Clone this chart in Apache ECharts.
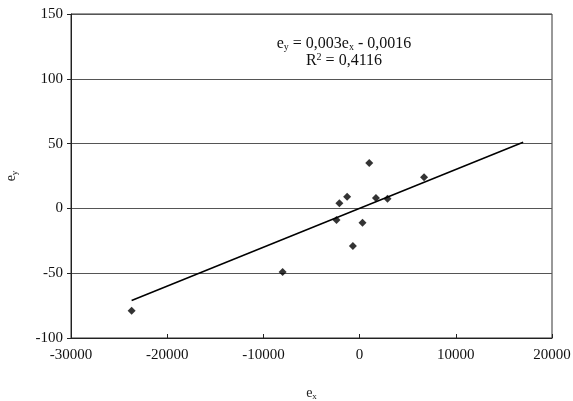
<!DOCTYPE html>
<html>
<head>
<meta charset="utf-8">
<script src="https://cdn.jsdelivr.net/npm/echarts@6/dist/echarts.min.js"></script>
<style>html,body{margin:0;padding:0;background:#fff;}#c{width:573px;height:401px;}</style>
</head>
<body>
<div id="c"></div>
<script>
var ex = [-23700, -8000, -2400, -2100, -1300, -700, 300, 1000, 1700, 2900, 6700];
var ey = [-79, -49, -9, 4, 9, -29, -11, 35, 8, 7.5, 24];
var trendX = [-23700, 17000];
var slope = 0.003, intercept = -0.0016;
var xTicks = [-30000, -20000, -10000, 0, 10000, 20000];
var yTicks = [-100, -50, 0, 50, 100, 150];

var pts = ex.map(function (x, i) { return [x, ey[i]]; });
var trend = trendX.map(function (x) { return [x, slope * x + intercept]; });
var font = 'Liberation Serif';

var chart = echarts.init(document.getElementById('c'), null, {renderer: 'canvas'});
chart.setOption({
  animation: false,
  backgroundColor: '#fff',
  grid: {left: 71, right: 21, top: 14, bottom: 63, containLabel: false, outerBoundsMode: 'none',
    show: true, borderColor: '#333', borderWidth: 1},
  xAxis: {
    type: 'value', min: xTicks[0], max: xTicks[xTicks.length - 1], interval: 10000,
    name: '{n|e}{s|x}', nameLocation: 'middle', nameGap: 48,
    nameTextStyle: {rich: {
      n: {fontFamily: font, fontSize: 14, color: '#222'},
      s: {fontFamily: font, fontSize: 9, color: '#222', padding: [6, 0, 0, 0]}
    }},
    axisLine: {show: true, onZero: false, lineStyle: {color: '#222'}},
    axisTick: {show: true, inside: true, length: 4, lineStyle: {color: '#222'}},
    axisLabel: {fontFamily: font, fontSize: 15, color: '#111', margin: 10,
      formatter: function (v) { return String(v); }},
    splitLine: {show: false}
  },
  yAxis: {
    type: 'value', min: yTicks[0], max: yTicks[yTicks.length - 1], interval: 50,
    name: '{n|e}{s|y}', nameLocation: 'middle', nameGap: 52,
    nameTextStyle: {rich: {
      n: {fontFamily: font, fontSize: 14, color: '#222'},
      s: {fontFamily: font, fontSize: 9, color: '#222', padding: [6, 0, 0, 0]}
    }},
    axisLine: {show: true, onZero: false, lineStyle: {color: '#222'}},
    axisTick: {show: true, inside: false, length: 4, lineStyle: {color: '#222'}},
    axisLabel: {fontFamily: font, fontSize: 15, color: '#111', margin: 8,
      formatter: function (v) { return String(v); }},
    splitLine: {show: true, lineStyle: {color: '#555', width: 1}}
  },
  graphic: [
    {type: 'text', x: 344, y: 44, style: {
      align: 'center', verticalAlign: 'middle',
      text: '{n|e}{s|y}{n| = 0,003e}{s|x}{n| - 0,0016}',
      rich: {n: {fontFamily: font, fontSize: 16, fill: '#111'}, s: {fontFamily: font, fontSize: 10, fill: '#111', padding: [7, 0, 0, 0]}}
    }},
    {type: 'text', x: 344, y: 61, style: {
      align: 'center', verticalAlign: 'middle',
      text: '{n|R}{p|2}{n| = 0,4116}',
      rich: {n: {fontFamily: font, fontSize: 16, fill: '#111'}, p: {fontFamily: font, fontSize: 10, fill: '#111', padding: [0, 0, 7, 0]}}
    }}
  ],
  series: [
    {type: 'line', data: trend, symbol: 'none', lineStyle: {color: '#000', width: 1.5}, z: 2},
    {type: 'scatter', data: pts, symbol: 'diamond', symbolSize: 8, itemStyle: {color: '#000'}, z: 3}
  ]
});
</script>
</body>
</html>
